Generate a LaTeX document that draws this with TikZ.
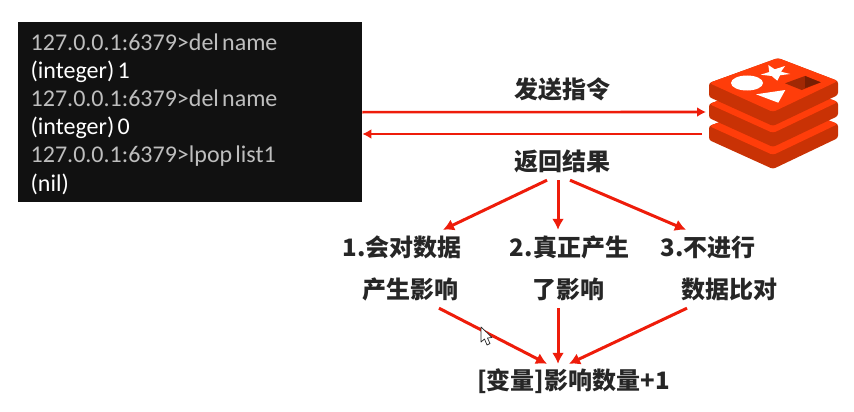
\documentclass[tikz,border=0pt]{standalone}
\usepackage{fontspec}
\setmainfont[WordSpace=0.6]{Carlito}
\newfontfamily\cjk{Noto Sans CJK SC}
\usetikzlibrary{arrows.meta}
\definecolor{linkred}{HTML}{EE1C0A}
\definecolor{inkgray}{HTML}{262626}
\definecolor{promptgray}{HTML}{BEBEBE}
\definecolor{boxblack}{HTML}{111111}
\definecolor{faceorange}{HTML}{FF3D0A}
\definecolor{sidered}{HTML}{C93205}
\def\RedisLayer#1{
  \fill [sidered,rounded corners=2.5pt] (709,83+#1) -- (709,97+#1) -- (773,126+#1) -- (838,95+#1) -- (838,81+#1) -- (778,58+#1) -- cycle;
  \fill [faceorange,rounded corners=3pt] (709,83+#1) -- (778,58+#1) -- (838,81+#1) -- (773,112+#1) -- cycle;
}
\tikzset{
  link/.style={draw=linkred,line width=3pt,-{Latex[length=11pt,width=12pt]}},
  wire/.style={draw=linkred,line width=2.6pt,-{Latex[length=9pt,width=10pt]}},
  lab/.style={text=inkgray,inner sep=0pt,font=\cjk\bfseries\fontsize{24}{24}\selectfont},
}
\begin{document}
\begin{tikzpicture}[x=1pt,y=-1pt]
  \useasboundingbox (0,0) rectangle (854,412);
  \node [fill=boxblack,anchor=north west,minimum width=344pt,minimum height=180pt] (cli) at (18,22) {};
  \node [anchor=west,inner sep=0pt,align=left,font=\fontsize{24}{28.2}\selectfont] (clitext) at (30.5,114) {%
    \textcolor{promptgray}{127.0.0.1:6379>del name}\\
    \textcolor{white}{(integer) 1}\\
    \textcolor{promptgray}{127.0.0.1:6379>del name}\\
    \textcolor{white}{(integer) 0}\\
    \textcolor{promptgray}{127.0.0.1:6379>lpop list1}\\
    \textcolor{white}{(nil)}};
  \RedisLayer{43} \RedisLayer{21} \RedisLayer{0}
  \fill [white] (747,83) ellipse [x radius=16,y radius=7.5];
  \fill [white] (768.3,65) -- (774.7,69.3) -- (785,66) -- (781,71.7) -- (790,74) -- (780,75.3) -- (777.3,80.7) -- (771.7,76) -- (760.7,74.7) -- (769.3,72) -- cycle;
  \fill [white] (756,94.3) -- (785.3,90) -- (778.3,102.7) -- cycle;
  \fill [black!20!sidered] (785,83.3) -- (805,76) -- (820.7,82.3) -- (801.7,90) -- cycle;
  \fill [black!40!sidered] (805,76) -- (820.7,82.3) -- (805,88) -- cycle;
  \coordinate (logoin) at (706,112);
  \coordinate (logoout) at (702,134);
  \node [lab] (send) at (562,89) {发送指令};
  \node [lab,minimum height=38pt] (result) at (562,161) {返回结果};
  \node [lab,minimum height=34pt] (one) at (402,247) {1.会对数据};
  \node [lab,minimum height=34pt] (two) at (569.5,247) {2.真正产生};
  \node [lab,minimum height=34pt] (three) at (708,247) {3.不进行};
  \node [lab,minimum height=38pt] (onedown) at (410.5,289) {产生影响};
  \node [lab,minimum height=38pt] (twodown) at (568.5,289) {了影响};
  \node [lab,minimum height=38pt] (threedown) at (729.5,289) {数据比对};
  \node [lab,minimum height=34pt] (count) at (573.5,381) {[变量]影响数量+1};
  \draw [wire] (cli.east) -- (logoin);
  \draw [wire] (logoout) -- (logoout -| cli.east);
  \draw [link] ([xshift=-15pt]result.south) -- ([xshift=41pt]one.north);
  \draw [link] ([xshift=-4pt]result.south) -- ([xshift=-11.5pt]two.north);
  \draw [link] ([xshift=8pt]result.south) -- ([xshift=-22pt]three.north);
  \draw [link] ([xshift=28.5pt]onedown.south) -- ([xshift=-26.5pt]count.north);
  \draw [link] ([xshift=-10.5pt]twodown.south) -- ([xshift=-15.5pt]count.north);
  \draw [link] ([xshift=-42.5pt]threedown.south) -- ([xshift=-4.5pt]count.north);
  \draw [fill=white,draw=inkgray,line width=0.7pt,line join=round] (481,327) -- (481,342) -- (484.5,339) -- (487,345) -- (490,343.5) -- (487.5,338) -- (492,337.5) -- cycle;
\end{tikzpicture}
\end{document}
